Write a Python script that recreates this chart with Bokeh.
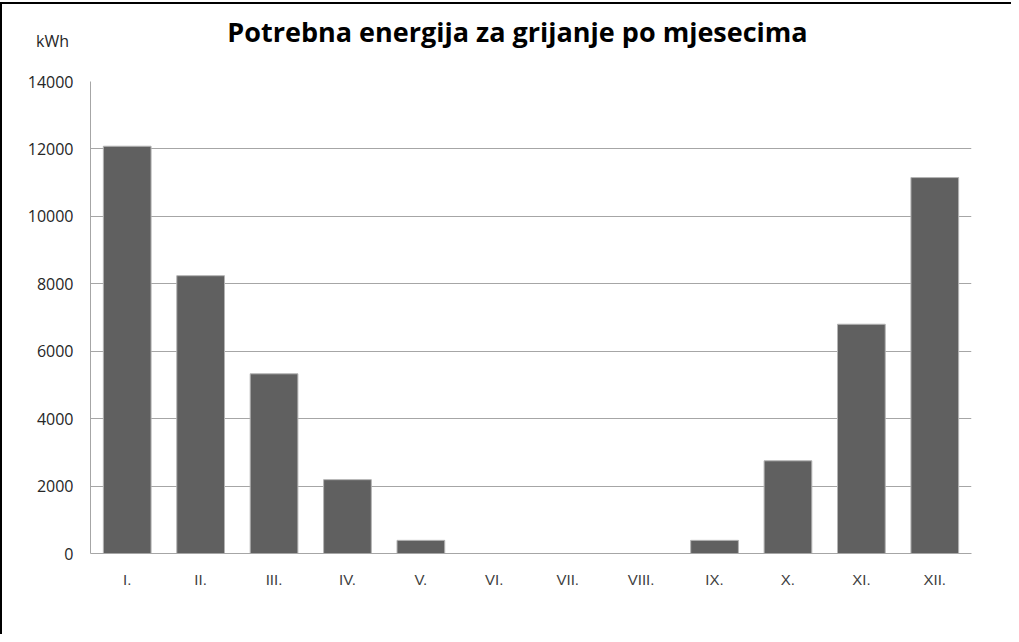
from bokeh.plotting import figure
from bokeh.models import Label, FixedTicker, Range1d
from bokeh.layouts import column
from bokeh.embed import file_html
from bokeh.resources import INLINE

months = ["I.", "II.", "III.", "IV.", "V.", "VI.", "VII.", "VIII.", "IX.", "X.", "XI.", "XII."]
energy_kwh = [12080, 8240, 5330, 2190, 390, 0, 0, 0, 390, 2750, 6800, 11150]
y_ticks = [0, 2000, 4000, 6000, 8000, 10000, 12000, 14000]
title_text = "Potrebna energija za grijanje po mjesecima"
unit_text = "kWh"

W = 1009

# header strip holding the title and the unit label (frame = whole strip, 1 unit = 1 px)
head = figure(width=W, height=60, x_range=Range1d(0, W), y_range=Range1d(0, 60),
              output_backend="svg", toolbar_location=None,
              x_axis_location=None, y_axis_location=None, min_border=0)
head.frame_align = False
head.grid.visible = False
head.outline_line_color = None
head.background_fill_color = "white"
head.border_fill_color = "white"
head.add_layout(Label(x=515, y=33, text=title_text, text_align="center",
                      text_baseline="alphabetic", text_font="Open Sans",
                      text_font_style="bold", text_font_size="27px", text_color="#000000"))
head.add_layout(Label(x=50, y=24, text=unit_text, text_align="center",
                      text_baseline="alphabetic", text_font="Open Sans",
                      text_font_size="16px", text_color="#262626"))

p = figure(x_range=months, y_range=Range1d(0, 14000),
           width=W, height=570, output_backend="svg", toolbar_location=None,
           min_border_left=88, min_border_right=40, min_border_top=17, min_border_bottom=81)
p.frame_align = False
p.background_fill_color = "white"
p.border_fill_color = "white"
p.outline_line_color = None

p.vbar(x=months, top=energy_kwh, width=0.65, fill_color="#606060",
       line_color="#b4b4b4", line_width=1)

p.xgrid.grid_line_color = None
p.ygrid.grid_line_color = "#a6a6a6"
p.ygrid.grid_line_width = 1
p.yaxis.ticker = FixedTicker(ticks=y_ticks)

for ax in (p.xaxis, p.yaxis):
    ax.axis_line_color = "#a6a6a6"
    ax.major_tick_line_color = None
    ax.minor_tick_line_color = None
    ax.major_label_text_color = "#262626"

p.yaxis.major_label_text_font = "Open Sans"
p.yaxis.major_label_text_font_size = "16px"
p.yaxis.major_label_standoff = 11
p.xaxis.major_label_text_font = "Liberation Sans"
p.xaxis.major_label_text_font_size = "15px"
p.xaxis.major_label_text_color = "#404040"
p.xaxis.major_label_standoff = 11

layout = column(head, p, spacing=0,
                styles={"border-left": "2px solid black", "border-top": "2px solid black",
                        "margin-top": "2px"})

open("out.html", "w").write(file_html(layout, INLINE))
